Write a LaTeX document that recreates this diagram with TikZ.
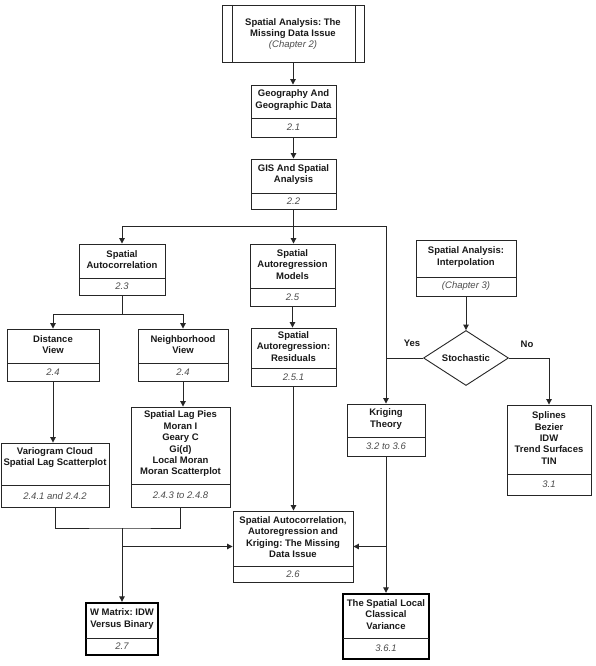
\documentclass[tikz,border=0pt]{standalone}
\usepackage{fontspec}
\setmainfont{Liberation Sans}
\usetikzlibrary{fit,arrows.meta,shapes.geometric}
\frenchspacing
\newcommand\mkbox[9]{%
  \node[#1, fit={(#3,#4)(#5,#6)}] (#2) {};
  \draw[divline] (#3,#7) -- (#5,#7);
  \node[ttl] (#2-t) at ({(#3+#5)/2},{(#4+#7)/2-1.5}) {#8};
  \node[subt] (#2-s) at ({(#3+#5)/2},{(#7+#6)/2}) {#9};
}
\begin{document}
\begin{tikzpicture}[x=1pt,y=-1pt,
  boxsty/.style={draw=black!85,line width=0.9pt,inner sep=0pt},
  thickbox/.style={draw=black,line width=2.4pt,inner sep=0pt},
  divline/.style={draw=black!85,line width=0.9pt},
  ttl/.style={align=center,font=\fontsize{9.5}{11.4}\selectfont\bfseries\frenchspacing,text=black!90,inner sep=0pt},
  subt/.style={font=\fontsize{9.5}{11.4}\selectfont\itshape,text=black!70,inner sep=0pt},
  conn/.style={draw=black!85,line width=1pt},
  arr/.style={conn,-{Triangle[width=5.5pt,length=5.5pt]}},
  lbl/.style={font=\fontsize{9.5}{11.4}\selectfont\bfseries,text=black!90,inner sep=0pt}]
\fill[white] (0,0) rectangle (595,666);
\useasboundingbox (0,0) rectangle (595,666);

% top box (predefined process)
\node[boxsty, fit={(222,5)(364,62)}] (top) {};
\draw[divline] (232,5) -- (232,62);
\draw[divline] (355,5) -- (355,62);
\node[ttl] (top-t) at (293,34) {Spatial Analysis: The\\Missing Data Issue\\{\mdseries\itshape\color{black!70}(Chapter 2)}};

\mkbox{boxsty}{geo}{251}{85}{336}{137}{118}{Geography And\\Geographic Data}{2.1}
\mkbox{boxsty}{gis}{251}{159}{336}{209}{193}{GIS And Spatial\\Analysis}{2.2}
\mkbox{boxsty}{sa}{79}{244}{165}{295}{278}{Spatial\\Autocorrelation}{2.3}
\mkbox{boxsty}{sar}{250}{244}{335}{306}{288}{Spatial\\Autoregression\\Models}{2.5}
\mkbox{boxsty}{res}{251}{328}{336}{386}{368}{Spatial\\Autoregression:\\Residuals}{2.5.1}
\mkbox{boxsty}{interp}{416}{240}{516}{296}{277}{Spatial Analysis:\\Interpolation}{(Chapter 3)}
\mkbox{boxsty}{dist}{7}{329}{99}{381}{363}{Distance\\View}{2.4}
\mkbox{boxsty}{nbh}{138}{329}{228}{381}{363}{Neighborhood\\View}{2.4}
\mkbox{boxsty}{vario}{1}{443}{109}{507}{485}{Variogram Cloud\\Spatial Lag Scatterplot\\\mbox{}}{2.4.1 and 2.4.2}
\mkbox{boxsty}{pies}{131}{407}{230}{507}{484}{Spatial Lag Pies\\Moran I\\Geary C\\Gi(d)\\Local Moran\\Moran Scatterplot}{2.4.3 to 2.4.8}
\mkbox{boxsty}{krig}{347}{404}{425}{456}{437}{Kriging\\Theory}{3.2 to 3.6}
\mkbox{boxsty}{spl}{507}{405}{591}{495}{474}{Splines\\Bezier\\IDW\\Trend Surfaces\\TIN}{3.1}
\mkbox{boxsty}{miss}{233}{511}{353}{582}{566}{Spatial Autocorrelation,\\Autoregression and\\Kriging: The Missing\\Data Issue}{2.6}
\mkbox{thickbox}{wm}{86}{603}{158}{655}{638}{W Matrix: IDW\\Versus Binary}{2.7}
\mkbox{thickbox}{var}{343}{594}{429}{659}{638}{The Spatial Local\\Classical\\Variance}{3.6.1}

\node[diamond, draw=black!85, line width=0.9pt, minimum width=85pt, minimum height=51pt, inner sep=0pt, font=\fontsize{9.5}{11.4}\selectfont\bfseries, text=black!90] (stoch) at (466,358) {Stochastic};
\node[lbl] (yes) at (412,343) {Yes};
\node[lbl] (no) at (527,344) {No};

% connectors
\draw[arr] (top.south) -- (top.south |- geo.north);
\draw[arr] (geo.south) -- (geo.south |- gis.north);
\coordinate (j1) at (293,226);
\draw[conn] (gis.south) -- (gis.south |- j1);
\draw[arr] (gis.south |- j1) -| (sa.north);
\draw[arr] (gis.south |- j1) -| (krig.north);
\draw[arr] (gis.south |- j1) -- (gis.south |- sar.north);
\coordinate (j2) at (122,314);
\draw[conn] (sa.south) -- (sa.south |- j2);
\draw[arr] (sa.south |- j2) -| (dist.north);
\draw[arr] (sa.south |- j2) -| (nbh.north);
\draw[arr] (sar.south) -- (sar.south |- res.north);
\draw[arr] (dist.south) -- (dist.south |- vario.north);
\draw[arr] (nbh.south) -- (nbh.south |- pies.north);
\draw[arr] (res.south) -- (res.south |- miss.north);
\draw[arr] (interp.south) -- (stoch.north);
\draw[conn] (stoch.west) -- (stoch.west -| krig.north);
\draw[arr] (stoch.east) -| (spl.north);
\coordinate (j3) at (122,528);
\draw[conn] (vario.south) |- (j3) -| (pies.south);
\draw[arr] (j3) -- (wm.north);
\draw[arr] (wm.north |- miss.west) -- (miss.west);
\draw[arr] (krig.south) -- (var.north);
\draw[arr] (krig.south |- miss.east) -- (miss.east);
\end{tikzpicture}
\end{document}
